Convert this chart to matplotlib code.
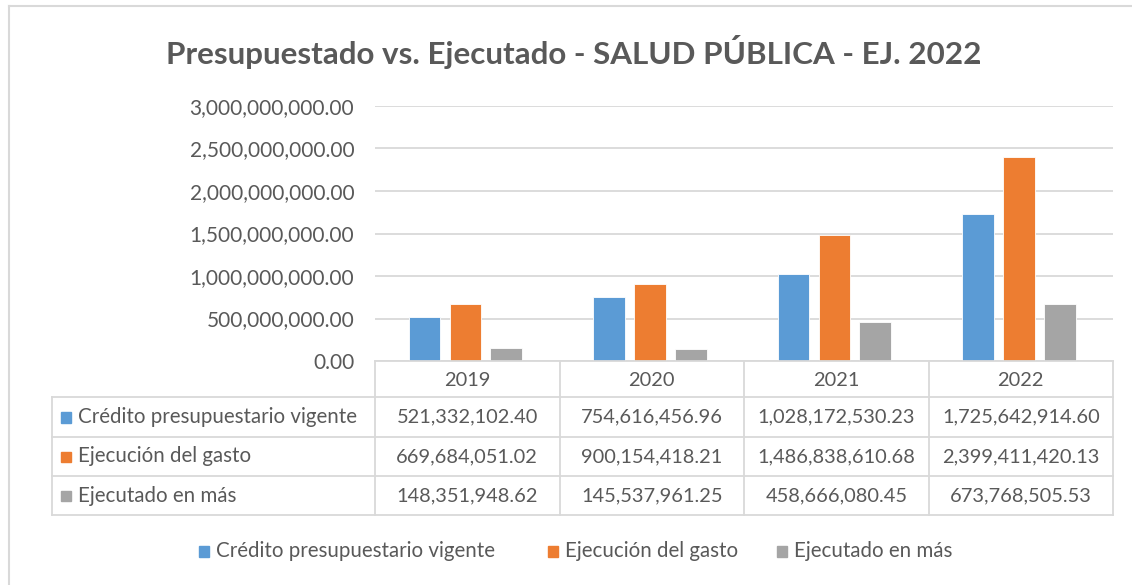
import matplotlib
matplotlib.use("Agg")
import matplotlib.pyplot as plt
import numpy as np
from matplotlib.patches import Rectangle
from matplotlib.lines import Line2D

plt.rcParams['font.family'] = ['Lato', 'DejaVu Sans']

years = ["2019", "2020", "2021", "2022"]
series_names = ["Crédito presupuestario vigente", "Ejecución del gasto", "Ejecutado en más"]
credito = [521332102.40, 754616456.96, 1028172530.23, 1725642914.60]
ejecucion = [669684051.02, 900154418.21, 1486838610.68, 2399411420.13]
ejecutado_mas = [148351948.62, 145537961.25, 458666080.45, 673768505.53]
series_values = [credito, ejecucion, ejecutado_mas]
colors = ["#5B9BD5", "#ED7D31", "#A5A5A5"]
title = "Presupuestado vs. Ejecutado - SALUD PÚBLICA - EJ. 2022"
yticks = [0, 500000000, 1000000000, 1500000000, 2000000000, 2500000000, 3000000000]

W, H = 1132, 585
TXT = "#595959"
GRID = "#D9D9D9"

fig = plt.figure(figsize=(W / 100, H / 100), dpi=100)

# plot area in pixels
px_left, px_right, px_top, px_bottom = 375, 1113, 106, 361
ax = fig.add_axes([px_left / W, 1 - px_bottom / H, (px_right - px_left) / W, (px_bottom - px_top) / H])
ax.set_xlim(-0.5, len(years) - 0.5)
ax.set_ylim(0, 3000000000)
x = np.arange(len(years))
bw = 0.172
step = 0.222
for i, (vals, c) in enumerate(zip(series_values, colors)):
    ax.bar(x + (i - 1) * step - 0.01, vals, width=bw, color=c, edgecolor="white", linewidth=0.6, zorder=3)
ax.set_yticks(yticks)
ax.set_yticklabels([f"{v:,.2f}" for v in yticks], fontsize=15, color=TXT)
ax.tick_params(axis='y', length=0, pad=15)
ax.set_xticks([])
ax.grid(axis='y', color=GRID, linewidth=1.3, zorder=0)
for s in ax.spines.values():
    s.set_visible(False)

# overlay axes in pixel coordinates for table, legend, border
ov = fig.add_axes([0, 0, 1, 1], zorder=5)
ov.set_xlim(0, W)
ov.set_ylim(H, 0)
ov.axis('off')
ov.patch.set_alpha(0)

# chart frame (only top and left visible in crop)
ov.add_line(Line2D([9, 9], [6, H], color="#D9D9D9", lw=1.5))
ov.add_line(Line2D([9, W], [6, 6], color="#D9D9D9", lw=1.5))

ov.text((166 + 982) / 2, 52, title, ha='center', va='center', fontsize=22.6,
        fontweight='bold', color=TXT)

# table
col_w = (px_right - px_left) / len(years)
col_edges = [px_left + k * col_w for k in range(len(years) + 1)]
tbl_left = 52
row_edges = [361, 397, 437, 476, 515]
lc = GRID
lw = 1.3
ov.add_line(Line2D([px_left, px_right], [row_edges[0]] * 2, color=lc, lw=lw))
for r in row_edges[1:]:
    ov.add_line(Line2D([tbl_left, px_right], [r, r], color=lc, lw=lw))
ov.add_line(Line2D([tbl_left, tbl_left], [row_edges[1], row_edges[-1]], color=lc, lw=lw))
for xe in col_edges:
    ov.add_line(Line2D([xe, xe], [row_edges[0], row_edges[-1]], color=lc, lw=lw))

fs_num = 14.4
fs_lbl = 14.8
for j, yr in enumerate(years):
    cx = (col_edges[j] + col_edges[j + 1]) / 2
    ov.text(cx, (row_edges[0] + row_edges[1]) / 2 + 1, yr, ha='center', va='center', fontsize=fs_num, color=TXT)
for i, (name, vals, c) in enumerate(zip(series_names, series_values, colors)):
    cy = (row_edges[i + 1] + row_edges[i + 2]) / 2
    ov.add_patch(Rectangle((61, cy - 5), 10, 10.5, color=c))
    ov.text(78, cy, name, ha='left', va='center', fontsize=fs_lbl, color=TXT)
    for j, v in enumerate(vals):
        cx = (col_edges[j] + col_edges[j + 1]) / 2
        ov.text(cx, cy, f"{v:,.2f}", ha='center', va='center', fontsize=fs_num, color=TXT)

# legend
leg_items = [(199, series_names[0]), (548, series_names[1]), (777, series_names[2])]
for (lx, name), c in zip(leg_items, colors):
    ov.add_patch(Rectangle((lx, 546), 10, 10.5, color=c))
    ov.text(lx + 17, 551, name, ha='left', va='center', fontsize=fs_lbl, color=TXT)

fig.savefig("out.png", dpi=100, facecolor="white")
